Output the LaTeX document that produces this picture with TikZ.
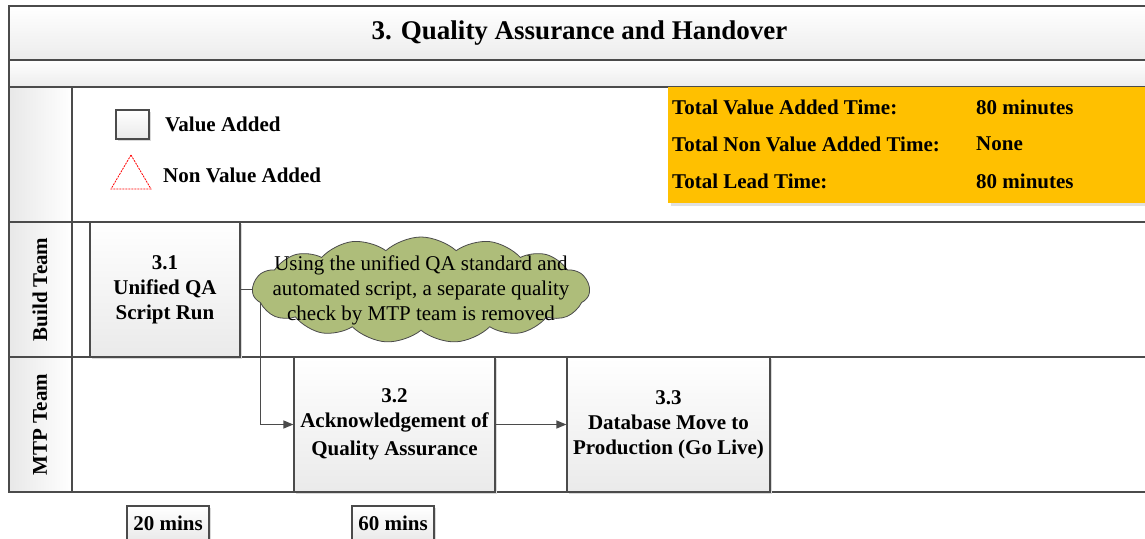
\documentclass[tikz,border=0pt]{standalone}
\usepackage{fontspec}
\setmainfont{Liberation Serif}
\usetikzlibrary{shapes.symbols,arrows.meta,shadows}

\definecolor{linegray}{RGB}{75,75,75}
\definecolor{bandgray}{RGB}{236,236,236}
\definecolor{hdrgray}{RGB}{232,232,232}
\definecolor{boxgray}{RGB}{234,234,234}
\definecolor{cloudgreen}{RGB}{174,189,122}
\definecolor{summaryorange}{RGB}{255,192,0}

\begin{document}
\begin{tikzpicture}[x=1pt,y=-1pt,
  frame/.style={draw=linegray, line width=1.2pt},
  band/.style={frame, top color=white, bottom color=bandgray},
  hdr/.style={frame, left color=hdrgray, right color=white},
  boldtext/.style={font=\bfseries\fontsize{21}{25}\selectfont},
  actbox/.style={frame, top color=white, bottom color=boxgray, align=center,
    boldtext, inner sep=2pt, minimum height=135pt,
    drop shadow={shadow xshift=2pt, shadow yshift=-2pt, fill=black!15, opacity=1}},
  timebox/.style={actbox, minimum height=34pt, minimum width=82pt},
  lanelabel/.style={boldtext, rotate=90},
  flow/.style={draw=linegray, line width=1.2pt, -{Triangle[length=10pt,width=8pt]}},
  sumtext/.style={boldtext, anchor=west, inner sep=0pt}
]
\useasboundingbox (0,0) rectangle (1145,538);
\clip (0,0) rectangle (1145,538);

% header bands
\path[band] (9,6) rectangle (1160,60);
\path[band] (9,60) rectangle (1160,87);
\node[font=\bfseries\fontsize{27}{30}\selectfont] (title) at (579.5,33) {3. Quality Assurance and Handover};

% legend row and swimlanes
\path[frame, fill=white] (9,87) rectangle (1160,222);
\path[frame, fill=white] (9,222) rectangle (1160,357);
\path[frame, fill=white] (9,357) rectangle (1160,492);
\path[hdr] (9,87) rectangle (72,222);
\path[hdr] (9,222) rectangle (72,357);
\path[hdr] (9,357) rectangle (72,492);
\node[lanelabel] (lbuild) at (40,289.5) {Build Team};
\node[lanelabel] (lmtp) at (40,424.5) {MTP Team};

% legend
\node[actbox, minimum width=33pt, minimum height=29pt, inner sep=0pt] (lgva) at (132.5,124.5) {};
\node[boldtext, anchor=west, inner sep=0pt] (lgvatext) at (165,124) {Value Added};
\draw[red, line width=0.8pt, dash pattern=on 2pt off 1pt] (131,155) -- (151,189) -- (111,189) -- cycle;
\node[boldtext, anchor=west, inner sep=0pt] (lgnvatext) at (163,175) {Non Value Added};

% summary panel
\fill[black!12] (671,88) rectangle (1160,206);
\fill[summaryorange] (668,87) rectangle (1160,203);
\node[sumtext] (s1) at (672,107) {Total Value Added Time:};
\node[sumtext] (s1v) at (976,107) {80 minutes};
\node[sumtext] (s2) at (672,144) {Total Non Value Added Time:};
\node[sumtext] (s2v) at (976,144) {None};
\node[sumtext] (s3) at (672,181) {Total Lead Time:};
\node[sumtext] (s3v) at (976,181) {80 minutes};

% process steps
\node[actbox, minimum width=150pt] (b31) at (165,289.5) {3.1\\Unified QA\\Script Run};
\node[actbox, minimum width=201pt] (b32) at (394.5,424.5) {3.2\\Acknowledgement of\\[3pt]Quality Assurance};
\node[actbox, minimum width=203pt] (b33) at (668.5,424.5) {3.3\\Database Move to\\Production (Go Live)};

% flow
\draw[flow] (b31.east) -- ++(20,0) |- (b32.west);
\draw[flow] (b32.east) -- (b33.west);

% improvement note
\node[cloud, cloud puffs=15, cloud puff arc=85, cloud ignores aspect,
  draw=linegray, line width=0.8pt, fill=cloudgreen,
  minimum width=337pt, minimum height=106pt, inner sep=0pt] (note) at (421,290) {};
\node[align=center, font=\fontsize{21}{25}\selectfont] (notetext) at (note.center)
  {Using the unified QA standard and\\automated script, a separate quality\\check by MTP team is removed};

% step durations
\node[timebox] (t1) at (168,523) {20 mins};
\node[timebox] (t2) at (393,523) {60 mins};
\end{tikzpicture}
\end{document}
